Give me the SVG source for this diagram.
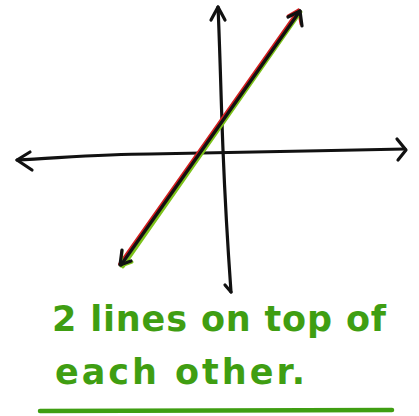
<svg xmlns="http://www.w3.org/2000/svg" width="419" height="416" viewBox="0 0 419 416">
<style>
.ink{fill:none;stroke:#111;stroke-width:3.2;stroke-linecap:round;stroke-linejoin:round}
.red{fill:none;stroke:#d42020;stroke-width:3;stroke-linecap:round;stroke-linejoin:round}
.grn{fill:none;stroke:#7cc21a;stroke-width:3;stroke-linecap:round;stroke-linejoin:round}
.txt{font-family:"DejaVu Sans",sans-serif;fill:#3f9e12;font-size:35px;font-weight:bold}
</style>
<rect width="419" height="416" fill="#fff"/>
<g id="connectors">
  <g id="y-axis">
    <path class="ink" d="M218,7 C220,50 221,100 223,150 C225,200 228,250 231,292"/>
    <path class="ink" d="M211,20 L218,7 L225,20"/>
    <path class="ink" d="M231,292 L225,285"/>
  </g>
  <g id="x-axis">
    <path class="ink" d="M17,160 C60,158 100,154 150,154 C230,152 320,151 405,149"/>
    <path class="ink" d="M30,152 L17,160 L32,170"/>
    <path class="ink" d="M397,139 L406,150 L398,160"/>
  </g>
  <g id="line-red">
    <path class="red" d="M298.5,10 L119.5,264"/>
    <path class="red" d="M288,16 L298.5,10 L301,24"/>
  </g>
  <g id="line-green">
    <path class="grn" d="M301,12 L123,267"/>
    <path class="grn" d="M122,251 L121,266 L132,262"/>
  </g>
  <g id="line-black">
    <path class="ink" d="M300,11 L121,265"/>
    <path class="ink" d="M288,17 L300,11 L302,26"/>
    <path class="ink" d="M122,250 L120,265 L131,261"/>
  </g>
</g>
<g id="caption">
  <text class="txt" x="52" y="331" textLength="334" lengthAdjust="spacing">2 lines on top of</text>
  <text class="txt" x="55" y="384" textLength="250" lengthAdjust="spacing">each other.</text>
  <path d="M40,411 L392,410" fill="none" stroke="#3f9e12" stroke-width="4.5" stroke-linecap="round"/>
</g>
</svg>
